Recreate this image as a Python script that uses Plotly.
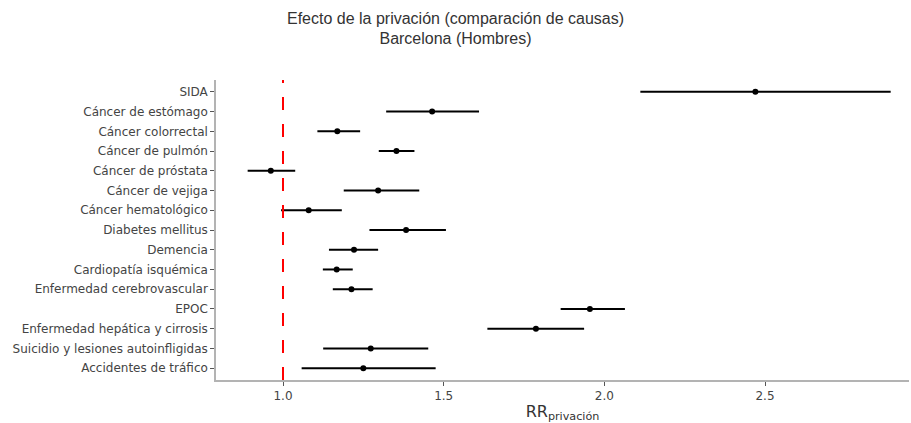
import plotly.graph_objects as go

causes = ["SIDA", "Cáncer de estómago", "Cáncer colorrectal", "Cáncer de pulmón",
          "Cáncer de próstata", "Cáncer de vejiga", "Cáncer hematológico",
          "Diabetes mellitus", "Demencia", "Cardiopatía isquémica",
          "Enfermedad cerebrovascular", "EPOC", "Enfermedad hepática y cirrosis",
          "Suicidio y lesiones autoinfligidas", "Accidentes de tráfico"]
rr = [2.470, 1.464, 1.169, 1.353, 0.962, 1.296, 1.080, 1.383, 1.221, 1.167,
      1.213, 1.955, 1.787, 1.273, 1.250]
lower = [2.112, 1.321, 1.107, 1.298, 0.890, 1.189, 0.994, 1.269, 1.143, 1.124,
         1.155, 1.864, 1.636, 1.125, 1.058]
upper = [2.891, 1.610, 1.240, 1.409, 1.038, 1.424, 1.183, 1.507, 1.296, 1.217,
         1.279, 2.064, 1.937, 1.452, 1.475]
ref_value = 1.0
x_ticks = [1.0, 1.5, 2.0, 2.5]

fig = go.Figure()
fig.add_trace(go.Scatter(
    x=rr, y=causes, mode="markers",
    marker=dict(color="black", size=6),
    error_x=dict(type="data", symmetric=False,
                 array=[u - r for u, r in zip(upper, rr)],
                 arrayminus=[r - l for r, l in zip(rr, lower)],
                 color="black", thickness=2, width=0),
    showlegend=False,
))
fig.add_shape(type="line", xref="x", yref="paper", x0=ref_value, x1=ref_value,
              y0=0, y1=1, line=dict(color="red", width=2, dash="13px,14px"))

fig.update_layout(
    width=911, height=423,
    margin=dict(l=216, r=2, t=80, b=43),
    paper_bgcolor="white", plot_bgcolor="white",
    title=dict(text="Efecto de la privación (comparación de causas)<br>Barcelona (Hombres)",
               x=0.5, xanchor="center", y=0.944, yanchor="middle",
               font=dict(family="Liberation Sans, Arial", size=16, color="#333")),
    font=dict(family="DejaVu Sans", size=12, color="#444"),
    xaxis=dict(range=[0.7915, 2.948], tickvals=x_ticks, ticktext=["1.0", "1.5", "2.0", "2.5"],
               showgrid=False, zeroline=False, showline=True, linecolor="#b3b3b3",
               linewidth=1.5, ticks="outside", ticklen=4, tickcolor="#555",
               title=dict(text="RR<sub>privación</sub>", font=dict(size=16, color="#333"),
                          standoff=4)),
    yaxis=dict(categoryorder="array", categoryarray=causes[::-1],
               range=[-0.6, 14.6], showgrid=False, zeroline=False, showline=True,
               linecolor="#b3b3b3", linewidth=1.5, ticks="outside", ticklen=4,
               tickcolor="#555"),
)
fig.write_html("out.html")
